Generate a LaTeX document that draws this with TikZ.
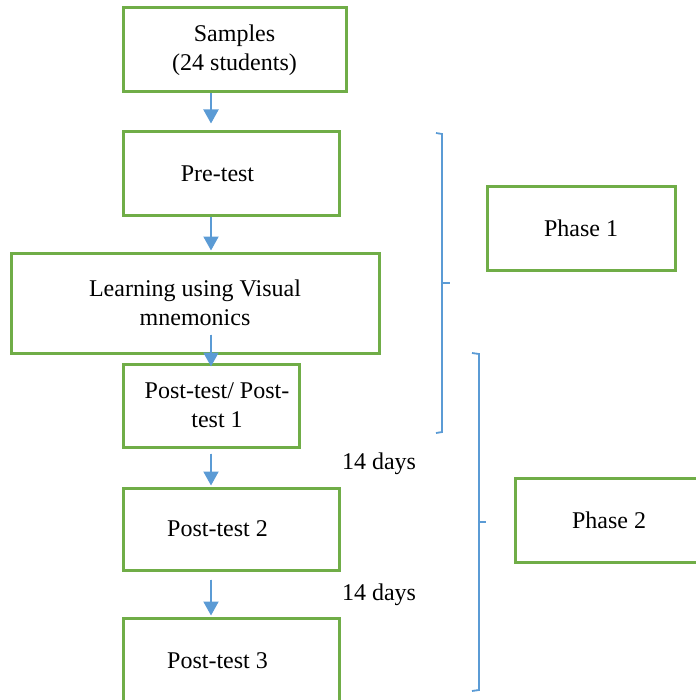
\documentclass[tikz,border=0pt]{standalone}
\usepackage{fontspec}
\setmainfont{Liberation Serif}
\usetikzlibrary{arrows.meta}
\definecolor{boxgreen}{RGB}{112,173,71}
\definecolor{flowblue}{RGB}{91,155,213}

\begin{document}
\begin{tikzpicture}[
                        x=0.5pt, y=-0.5pt,
                        >={Triangle[width=7.5pt,length=7pt]},
                        block/.style={rectangle, draw=boxgreen, line width=1.5pt, align=center, inner sep=2pt,
                                      font=\fontsize{12}{14.5}\selectfont},
                        flow/.style={->, draw=flowblue, fill=flowblue, line width=1pt},
                        brace/.style={draw=flowblue, line width=0.9pt}
                    ]
                    \useasboundingbox (0,0) rectangle (695,700);
                    % Blocks
                    \node [block, minimum width=111.5pt, minimum height=42pt] (samples) at (234.5,50) {Samples\\(24 students)};
                    \node [block, minimum width=108pt, minimum height=41.5pt] (pretest) at (231,173.5) {Pre-test\hspace*{13.5pt}};
                    \node [block, minimum width=184pt, minimum height=50pt] (learning) at (195,303) {Learning using Visual\\mnemonics};
                    \node [block, minimum width=88pt, minimum height=41.5pt] (post1) at (211,405.5) {\hspace*{6pt}Post-test/ Post-\\\hspace*{6pt}test 1};
                    \node [block, minimum width=108pt, minimum height=41pt] (post2) at (231,529) {Post-test 2\hspace*{13.5pt}};
                    \node [block, minimum width=108pt, minimum height=43pt] (post3) at (231,661) {Post-test 3\hspace*{13.5pt}};
                    \node [block, minimum width=94pt, minimum height=41.5pt] (phase1) at (581,228.5) {Phase 1};
                    \node [block, minimum width=94pt, minimum height=42pt] (phase2) at (609,520) {Phase 2};
                    \node [font=\fontsize{12}{14.5}\selectfont] (gap1) at (379,464) {14 days};
                    \node [font=\fontsize{12}{14.5}\selectfont] (gap2) at (379,595) {14 days};

                    % Connections
                    \draw [flow, shorten >=3.5pt] (samples.south -| post1) -- (pretest.north -| post1);
                    \draw [flow, shorten >=0.5pt] (pretest.south -| post1) -- (learning.north -| post1);
                    \draw [flow] ([yshift=10pt]learning.south -| post1) -- ([yshift=-2pt]post1.north);
                    \draw [flow, shorten <=2.5pt, shorten >=0.5pt] (post1.south) -- (post2.north -| post1);
                    \draw [flow, shorten <=4pt, shorten >=0.5pt] (post2.south -| post1) -- (post3.north -| post1);

                    % Brackets
                    \draw [brace] (436,133) -- (442,134) -- (442,432) -- (436,433);
                    \draw [brace] (442,283) -- (450,283);
                    \draw [brace] (472,353) -- (479,354) -- (479,690) -- (472,691);
                    \draw [brace] (479,522) -- (486,522);
                \end{tikzpicture}
\end{document}
